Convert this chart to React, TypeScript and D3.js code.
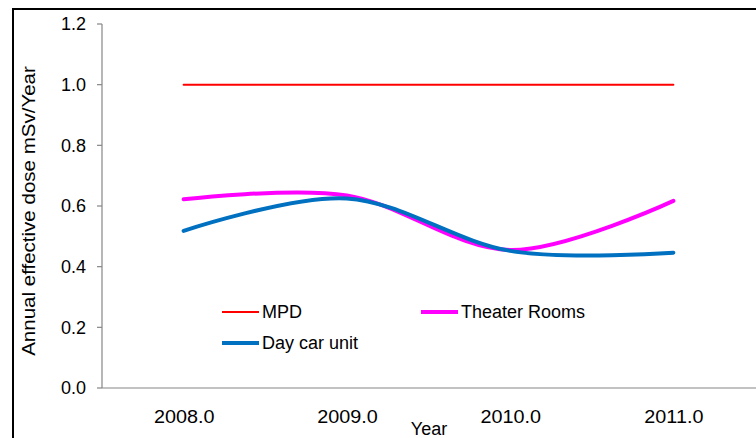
import React, { useEffect, useRef } from "react";
import * as d3 from "d3";

const categories = ["2008.0", "2009.0", "2010.0", "2011.0"];
const mpd = [1.0, 1.0, 1.0, 1.0];
const theater = [0.622, 0.635, 0.455, 0.617];
const dayCar = [0.518, 0.625, 0.452, 0.446];
const yTicks = [0, 0.2, 0.4, 0.6, 0.8, 1.0, 1.2];

const series = [
  { name: "MPD", values: mpd, color: "#ff0000", width: 2, smooth: false },
  { name: "Theater Rooms", values: theater, color: "#ff00ff", width: 4, smooth: true },
  { name: "Day car unit", values: dayCar, color: "#0070c0", width: 4, smooth: true },
];

const W = 756;
const H = 438;
const FONT = "'Liberation Sans', Arial, sans-serif";

export default function App() {
  const ref = useRef<SVGSVGElement>(null);

  useEffect(() => {
    const svg = d3.select(ref.current);
    svg.selectAll("*").remove();

    const left = 102;
    const right = 756;
    const top = 24;
    const bottom = 388;

    const x = d3.scaleBand().domain(categories).range([left, right - 1]);
    const y = d3.scaleLinear().domain([0, 1.2]).range([bottom, top]);

    svg.append("line").attr("x1", 13).attr("x2", 756).attr("y1", 9).attr("y2", 9)
      .attr("stroke", "#000").attr("stroke-width", 2);
    svg.append("line").attr("x1", 13).attr("x2", 13).attr("y1", 8).attr("y2", 438)
      .attr("stroke", "#000").attr("stroke-width", 2);

    svg.append("line").attr("x1", left).attr("x2", left).attr("y1", y(1.2)).attr("y2", y(0))
      .attr("stroke", "#868686").attr("stroke-width", 1.2);
    yTicks.forEach((t) => {
      svg.append("line").attr("x1", left - 5).attr("x2", left).attr("y1", y(t)).attr("y2", y(t))
        .attr("stroke", "#868686").attr("stroke-width", 1.2);
      svg.append("text").attr("x", 86).attr("y", y(t)).attr("dy", "0.36em")
        .attr("text-anchor", "end").attr("font-family", FONT).attr("font-size", 18)
        .attr("fill", "#000").text(t.toFixed(1));
    });

    svg.append("line").attr("x1", left).attr("x2", right).attr("y1", y(0)).attr("y2", y(0))
      .attr("stroke", "#868686").attr("stroke-width", 1.2);
    categories.forEach((c) => {
      const cxp = (x(c) as number) + x.bandwidth() / 2;
      svg.append("text")
        .attr("transform", `translate(${cxp + 0.5},423) scale(1.1,1)`)
        .attr("text-anchor", "middle").attr("font-family", FONT).attr("font-size", 18)
        .attr("fill", "#000").text(c);
    });

    svg.append("text").attr("x", 429).attr("y", 435).attr("text-anchor", "middle")
      .attr("font-family", FONT).attr("font-size", 18).text("Year");
    svg.append("text").attr("transform", "translate(35,211) rotate(-90) scale(1.14,1)")
      .attr("text-anchor", "middle").attr("font-family", FONT).attr("font-size", 18)
      .text("Annual effective dose mSv/Year");

    const cx = (i: number) => (x(categories[i]) as number) + x.bandwidth() / 2;
    series.forEach((s) => {
      const line = d3.line<number>()
        .x((_, i) => cx(i))
        .y((v) => y(v))
        .curve(s.smooth ? d3.curveCardinal.tension(0) : d3.curveLinear);
      svg.append("path").attr("d", line(s.values) as string).attr("fill", "none")
        .attr("stroke", s.color).attr("stroke-width", s.width).attr("stroke-linecap", "round");
    });

    const legend = [
      { s: series[0], x: 222, y: 312 },
      { s: series[1], x: 421, y: 312 },
      { s: series[2], x: 222, y: 343 },
    ];
    legend.forEach((l) => {
      svg.append("line").attr("x1", l.x).attr("x2", l.x + 37).attr("y1", l.y).attr("y2", l.y)
        .attr("stroke", l.s.color).attr("stroke-width", l.s.width);
      svg.append("text").attr("x", l.x + 40).attr("y", l.y).attr("dy", "0.36em")
        .attr("font-family", FONT).attr("font-size", 18).text(l.s.name);
    });
  }, []);

  return (
    <svg
      ref={ref}
      width={W}
      height={H}
      style={{ position: "absolute", left: 0, top: 0, background: "#fff" }}
    />
  );
}
